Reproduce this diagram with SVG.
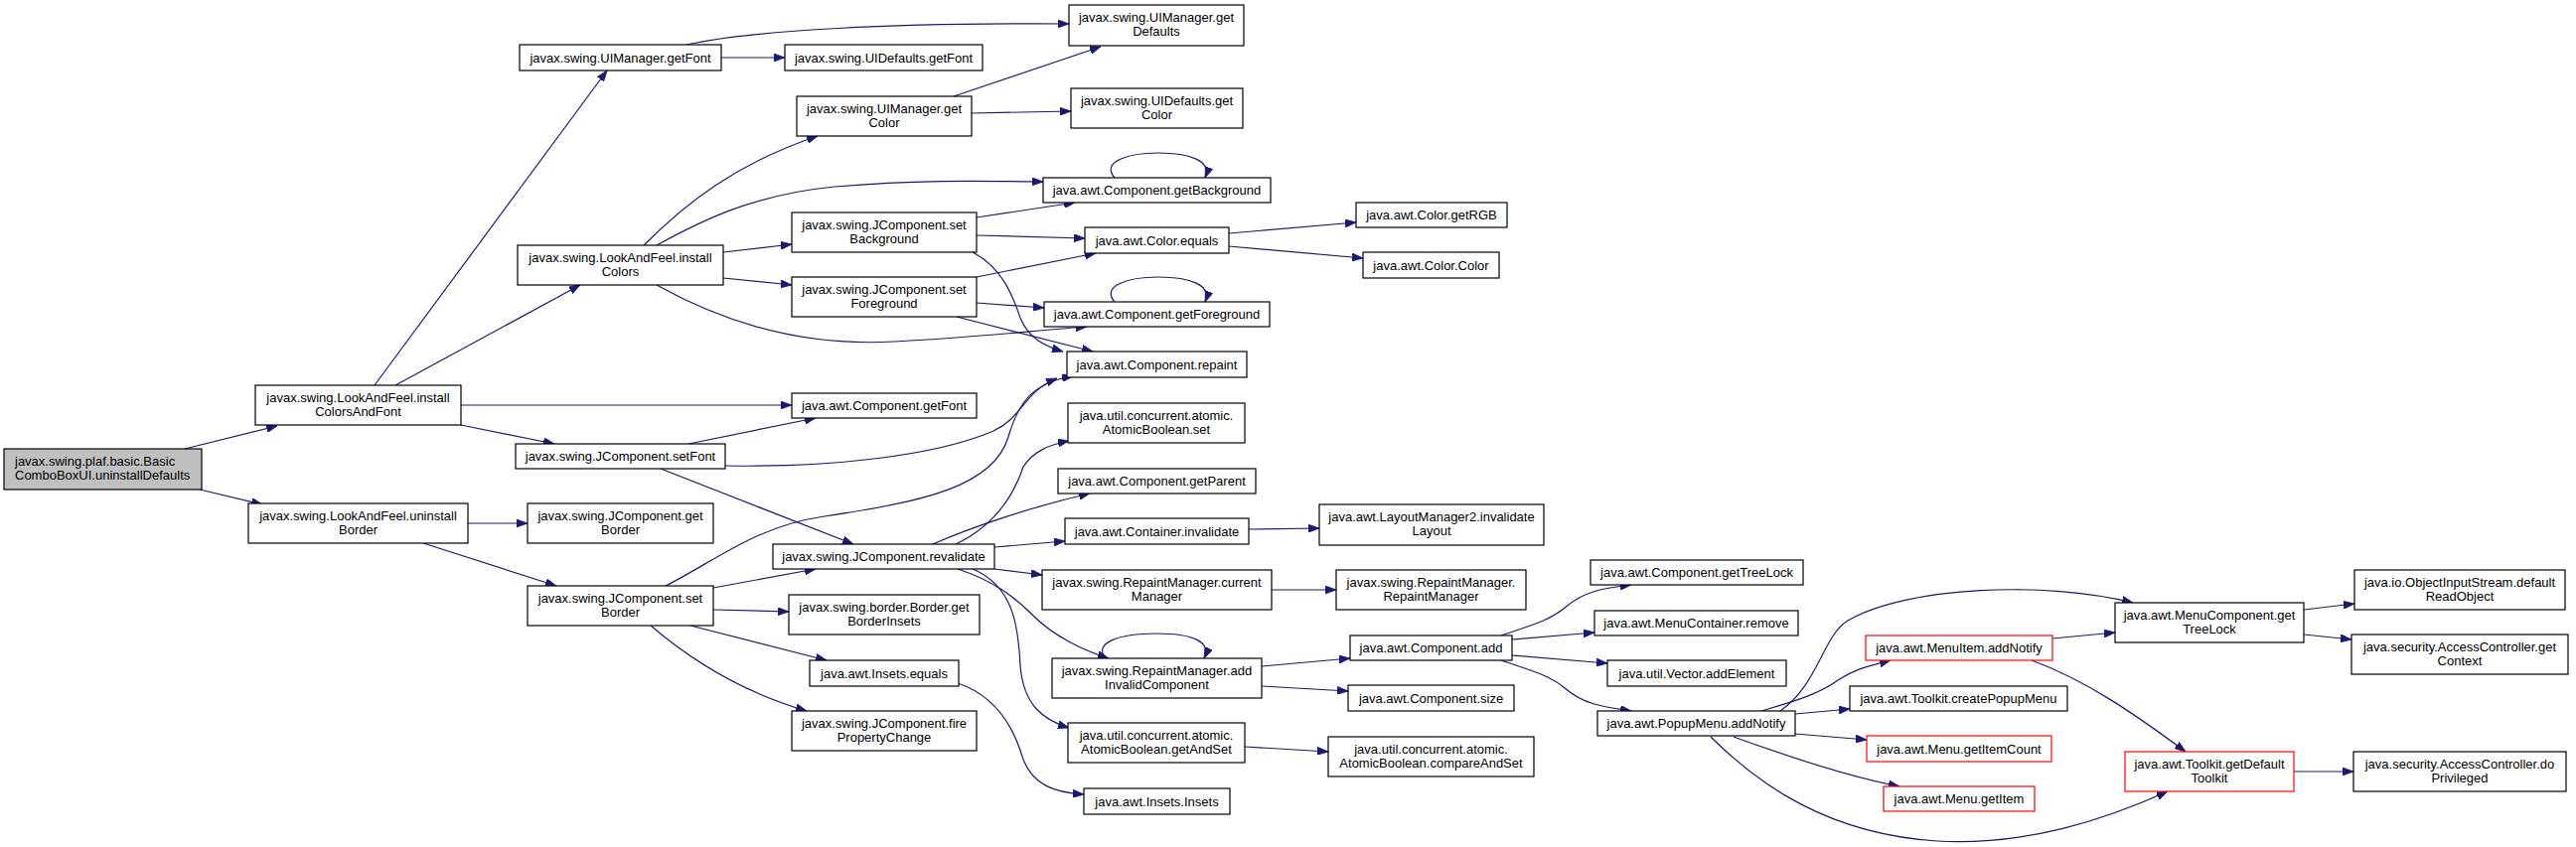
<svg xmlns="http://www.w3.org/2000/svg" width="2593" height="853" viewBox="0 0 2593 853">
<defs>
<marker id="a" markerWidth="11" markerHeight="8" refX="11" refY="4" orient="auto" markerUnits="userSpaceOnUse"><path d="M0,0 L11,4 L0,8 z" fill="#191970" stroke="#191970" stroke-width="0.8"/></marker>
<style>
rect{fill:#fff;stroke:#000;stroke-width:1.2}
.r rect{stroke:#f00}
.root rect{fill:#bfbfbf}
text{font-family:"Liberation Sans",Arial,sans-serif;font-size:13px;text-anchor:middle;fill:#000}
.root text{text-anchor:start}
#edges path{fill:none;stroke:#191970;stroke-width:1.2;marker-end:url(#a)}
</style>
</defs>
<rect x="0" y="0" width="2593" height="853" style="fill:#fff;stroke:none"/>
<g id="edges">
<path d="M186,452 L279,429"/>
<path d="M201,493 L264,508"/>
<path d="M377,388 L611,71"/>
<path d="M398,388 L584,287"/>
<path d="M464,408 L797,408"/>
<path d="M464,428 L558,447"/>
<path d="M691,45 C760,30 900,23 1076,24"/>
<path d="M726,58 L790,58"/>
<path d="M648,247 C690,205 740,165 823,137"/>
<path d="M661,247 C710,220 760,196 840,188 C920,181 980,182 1050,183"/>
<path d="M728,254 L797,246"/>
<path d="M728,280 L797,287"/>
<path d="M661,287 C720,320 800,350 900,344 C980,340 1040,333 1094,329"/>
<path d="M960,97 L1108,47"/>
<path d="M978,114 L1078,112"/>
<path d="M983,219 L1082,204"/>
<path d="M983,237 L1092,240"/>
<path d="M979,254 C1010,270 1020,300 1027,320 C1035,340 1050,348 1070,354"/>
<path d="M983,279 L1103,255"/>
<path d="M983,305 L1051,310"/>
<path d="M963,319 L1100,354"/>
<path d="M1237,235 L1365,224"/>
<path d="M1237,248 L1372,260"/>
<path d="M1122,179 C1108,163 1135,154 1166,154 C1198,154 1220,162 1213,179"/>
<path d="M1122,304 C1108,288 1135,279 1166,279 C1198,279 1220,287 1213,304"/>
<path d="M693,447 L821,421"/>
<path d="M730,469 C830,471 940,460 1000,434 C1030,420 1030,395 1064,381"/>
<path d="M665,472 L859,548"/>
<path d="M471,527 L531,527"/>
<path d="M426,547 L560,590"/>
<path d="M718,592 L821,573"/>
<path d="M670,590 C720,565 760,530 830,520 C930,505 1000,490 1015,440 C1025,405 1040,385 1080,379"/>
<path d="M718,614 L794,616"/>
<path d="M695,630 L832,665"/>
<path d="M655,630 C690,660 740,695 812,716"/>
<path d="M964,688 C1000,700 1020,730 1030,765 C1040,790 1060,798 1091,800"/>
<path d="M962,548 C1000,530 1020,500 1030,470 C1040,455 1055,448 1076,444"/>
<path d="M939,548 C980,530 1040,510 1097,497"/>
<path d="M1001,551 L1072,545"/>
<path d="M1001,573 L1049,579"/>
<path d="M964,573 C1000,585 1020,600 1040,620 C1060,640 1090,655 1116,663"/>
<path d="M979,573 C1020,590 1025,630 1027,670 C1030,710 1050,725 1076,733"/>
<path d="M1257,533 L1328,532"/>
<path d="M1280,594 L1345,594"/>
<path d="M1270,671 L1359,663"/>
<path d="M1270,691 L1357,696"/>
<path d="M1113,663 C1100,648 1125,638 1164,638 C1200,638 1220,646 1212,663"/>
<path d="M1253,752 L1337,757"/>
<path d="M1511,640 C1540,630 1560,625 1575,612 C1595,595 1615,592 1642,589"/>
<path d="M1522,644 L1605,637"/>
<path d="M1522,660 L1618,668"/>
<path d="M1511,665 C1540,675 1560,680 1575,693 C1595,710 1615,712 1642,716"/>
<path d="M1792,716 C1830,690 1835,640 1860,625 C1920,590 2060,585 2147,607"/>
<path d="M1773,716 C1800,708 1830,700 1850,685 C1870,672 1885,670 1903,665"/>
<path d="M1807,719 L1862,714"/>
<path d="M1807,739 L1879,745"/>
<path d="M1745,742 C1800,762 1860,782 1912,792"/>
<path d="M1722,742 C1770,790 1840,840 1950,847 C2040,852 2120,825 2182,797"/>
<path d="M2066,643 L2129,637"/>
<path d="M2045,665 C2100,685 2150,720 2200,757"/>
<path d="M2319,614 L2370,608"/>
<path d="M2319,639 L2367,644"/>
<path d="M2309,777 L2369,777"/>
</g>
<g id="n1" class="root"><rect x="4" y="452" width="199" height="41"/><text x="15" y="469">javax.swing.plaf.basic.Basic</text><text x="15" y="483">ComboBoxUI.uninstallDefaults</text></g>
<g id="n2"><rect x="257" y="388" width="207" height="40"/><text x="360.5" y="404.5">javax.swing.LookAndFeel.install</text><text x="360.5" y="418.5">ColorsAndFont</text></g>
<g id="n3"><rect x="250" y="507" width="221" height="40"/><text x="360.5" y="523.5">javax.swing.LookAndFeel.uninstall</text><text x="360.5" y="537.5">Border</text></g>
<g id="n4"><rect x="523" y="45" width="203" height="26"/><text x="624.5" y="62.5">javax.swing.UIManager.getFont</text></g>
<g id="n5"><rect x="521" y="247" width="207" height="40"/><text x="624.5" y="263.5">javax.swing.LookAndFeel.install</text><text x="624.5" y="277.5">Colors</text></g>
<g id="n6"><rect x="519" y="447" width="211" height="25"/><text x="624.5" y="464">javax.swing.JComponent.setFont</text></g>
<g id="n7"><rect x="531" y="507" width="187" height="40"/><text x="624.5" y="523.5">javax.swing.JComponent.get</text><text x="624.5" y="537.5">Border</text></g>
<g id="n8"><rect x="531" y="590" width="187" height="40"/><text x="624.5" y="606.5">javax.swing.JComponent.set</text><text x="624.5" y="620.5">Border</text></g>
<g id="n9"><rect x="1076" y="5" width="176" height="41"/><text x="1164" y="22">javax.swing.UIManager.get</text><text x="1164" y="36">Defaults</text></g>
<g id="n10"><rect x="790" y="45" width="199" height="26"/><text x="889.5" y="62.5">javax.swing.UIDefaults.getFont</text></g>
<g id="n11"><rect x="802" y="97" width="176" height="40"/><text x="890" y="113.5">javax.swing.UIManager.get</text><text x="890" y="127.5">Color</text></g>
<g id="n12"><rect x="1078" y="89" width="173" height="40"/><text x="1164.5" y="105.5">javax.swing.UIDefaults.get</text><text x="1164.5" y="119.5">Color</text></g>
<g id="n13"><rect x="1050" y="179" width="229" height="25"/><text x="1164.5" y="196">java.awt.Component.getBackground</text></g>
<g id="n14"><rect x="797" y="214" width="186" height="40"/><text x="890" y="230.5">javax.swing.JComponent.set</text><text x="890" y="244.5">Background</text></g>
<g id="n15"><rect x="1092" y="229" width="145" height="26"/><text x="1164.5" y="246.5">java.awt.Color.equals</text></g>
<g id="n16"><rect x="797" y="279" width="186" height="40"/><text x="890" y="295.5">javax.swing.JComponent.set</text><text x="890" y="309.5">Foreground</text></g>
<g id="n17"><rect x="1051" y="304" width="227" height="25"/><text x="1164.5" y="321">java.awt.Component.getForeground</text></g>
<g id="n18"><rect x="1074" y="354" width="181" height="26"/><text x="1164.5" y="371.5">java.awt.Component.repaint</text></g>
<g id="n19"><rect x="797" y="396" width="186" height="25"/><text x="890" y="413">java.awt.Component.getFont</text></g>
<g id="n20"><rect x="1075" y="406" width="178" height="40"/><text x="1164" y="422.5">java.util.concurrent.atomic.</text><text x="1164" y="436.5">AtomicBoolean.set</text></g>
<g id="n21"><rect x="1365" y="204" width="152" height="25"/><text x="1441" y="221">java.awt.Color.getRGB</text></g>
<g id="n22"><rect x="1372" y="254" width="137" height="26"/><text x="1440.5" y="271.5">java.awt.Color.Color</text></g>
<g id="n23"><rect x="1065" y="472" width="199" height="25"/><text x="1164.5" y="489">java.awt.Component.getParent</text></g>
<g id="n24"><rect x="1072" y="522" width="185" height="26"/><text x="1164.5" y="539.5">java.awt.Container.invalidate</text></g>
<g id="n25"><rect x="778" y="548" width="223" height="25"/><text x="889.5" y="565">javax.swing.JComponent.revalidate</text></g>
<g id="n26"><rect x="1049" y="574" width="231" height="40"/><text x="1164.5" y="590.5">javax.swing.RepaintManager.current</text><text x="1164.5" y="604.5">Manager</text></g>
<g id="n27"><rect x="794" y="599" width="192" height="40"/><text x="890" y="615.5">javax.swing.border.Border.get</text><text x="890" y="629.5">BorderInsets</text></g>
<g id="n28"><rect x="815" y="665" width="150" height="26"/><text x="890" y="682.5">java.awt.Insets.equals</text></g>
<g id="n29"><rect x="1059" y="663" width="211" height="40"/><text x="1164.5" y="679.5">javax.swing.RepaintManager.add</text><text x="1164.5" y="693.5">InvalidComponent</text></g>
<g id="n30"><rect x="797" y="716" width="186" height="40"/><text x="890" y="732.5">javax.swing.JComponent.fire</text><text x="890" y="746.5">PropertyChange</text></g>
<g id="n31"><rect x="1075" y="728" width="178" height="40"/><text x="1164" y="744.5">java.util.concurrent.atomic.</text><text x="1164" y="758.5">AtomicBoolean.getAndSet</text></g>
<g id="n32"><rect x="1091" y="794" width="147" height="26"/><text x="1164.5" y="811.5">java.awt.Insets.Insets</text></g>
<g id="n33"><rect x="1328" y="508" width="226" height="41"/><text x="1441" y="525">java.awt.LayoutManager2.invalidate</text><text x="1441" y="539">Layout</text></g>
<g id="n34"><rect x="1345" y="574" width="191" height="40"/><text x="1440.5" y="590.5">javax.swing.RepaintManager.</text><text x="1440.5" y="604.5">RepaintManager</text></g>
<g id="n35"><rect x="1601" y="564" width="214" height="25"/><text x="1708" y="581">java.awt.Component.getTreeLock</text></g>
<g id="n36"><rect x="1605" y="615" width="205" height="25"/><text x="1707.5" y="632">java.awt.MenuContainer.remove</text></g>
<g id="n37"><rect x="1359" y="640" width="163" height="25"/><text x="1440.5" y="657">java.awt.Component.add</text></g>
<g id="n38"><rect x="1618" y="665" width="180" height="26"/><text x="1708" y="682.5">java.util.Vector.addElement</text></g>
<g id="n39"><rect x="1357" y="690" width="167" height="26"/><text x="1440.5" y="707.5">java.awt.Component.size</text></g>
<g id="n40"><rect x="1608" y="716" width="199" height="25"/><text x="1707.5" y="733">java.awt.PopupMenu.addNotify</text></g>
<g id="n41"><rect x="1337" y="742" width="207" height="40"/><text x="1440.5" y="758.5">java.util.concurrent.atomic.</text><text x="1440.5" y="772.5">AtomicBoolean.compareAndSet</text></g>
<g id="n42" class="r"><rect x="1878" y="640" width="188" height="25"/><text x="1972" y="657">java.awt.MenuItem.addNotify</text></g>
<g id="n43"><rect x="1862" y="691" width="219" height="25"/><text x="1971.5" y="708">java.awt.Toolkit.createPopupMenu</text></g>
<g id="n44" class="r"><rect x="1879" y="741" width="186" height="26"/><text x="1972" y="758.5">java.awt.Menu.getItemCount</text></g>
<g id="n45" class="r"><rect x="1896" y="792" width="152" height="25"/><text x="1972" y="809">java.awt.Menu.getItem</text></g>
<g id="n46"><rect x="2129" y="607" width="190" height="40"/><text x="2224" y="623.5">java.awt.MenuComponent.get</text><text x="2224" y="637.5">TreeLock</text></g>
<g id="n47"><rect x="2370" y="574" width="212" height="40"/><text x="2476" y="590.5">java.io.ObjectInputStream.default</text><text x="2476" y="604.5">ReadObject</text></g>
<g id="n48"><rect x="2367" y="639" width="218" height="40"/><text x="2476" y="655.5">java.security.AccessController.get</text><text x="2476" y="669.5">Context</text></g>
<g id="n49" class="r"><rect x="2139" y="757" width="170" height="40"/><text x="2224" y="773.5">java.awt.Toolkit.getDefault</text><text x="2224" y="787.5">Toolkit</text></g>
<g id="n50"><rect x="2369" y="757" width="214" height="40"/><text x="2476" y="773.5">java.security.AccessController.do</text><text x="2476" y="787.5">Privileged</text></g>
</svg>
